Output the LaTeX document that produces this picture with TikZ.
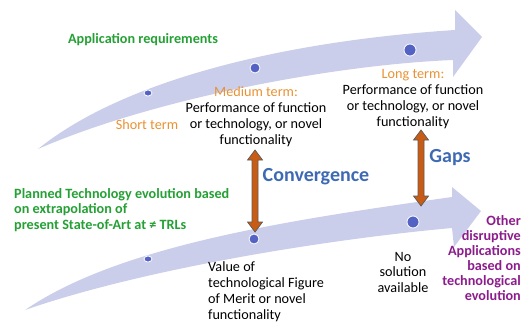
\documentclass[tikz,border=0pt]{standalone}
\usepackage{fontspec}
\setmainfont{Carlito}
\usetikzlibrary{calc,shapes.geometric}

\definecolor{bandcol}{RGB}{203,206,234}
\definecolor{dotcol}{RGB}{84,98,196}
\definecolor{appgreen}{RGB}{36,160,52}
\definecolor{termorange}{RGB}{232,146,52}
\definecolor{convblue}{RGB}{62,106,180}
\definecolor{otherpurple}{RGB}{140,28,140}
\definecolor{arroworange}{RGB}{200,92,20}
\definecolor{arrowedge}{RGB}{90,90,90}

\newcommand{\dblarrow}[2]{%
  \draw[arrowedge, fill=arroworange, line width=0.7pt, line join=miter]
    (#1) -- ++(7.5,10) -- ++(-4.5,0) -- ($(#2)+(3,-10)$) -- ++(4.5,0)
    -- (#2) -- ++(-7.5,-10) -- ++(4.5,0) -- ($(#1)+(-3,10)$) -- ++(-4.5,0) -- cycle;}

\begin{document}
\begin{tikzpicture}[x=1pt, y=-1pt,
  txt/.style = {font=\fontsize{14.2}{16}\selectfont, inner sep=0pt},
  greentxt/.style = {txt, text=appgreen, font=\fontsize{14.2}{15.5}\selectfont\bfseries},
  bigblue/.style = {inner sep=0pt, text=convblue, font=\fontsize{20}{22}\selectfont\bfseries},
  dot/.style = {circle, fill=dotcol, draw=white, line width=0.8pt, inner sep=0pt},
  smalldot/.style = {ellipse, fill=dotcol, draw=white, line width=0.8pt, inner sep=0pt,
    minimum width=8pt, minimum height=6pt}]
  \useasboundingbox (0,0) rectangle (526,323);

  % Bandes
  \fill[bandcol] (38,149) .. controls (130,75) and (300,40) .. (455,30)
    -- (455,10) -- (482,37) -- (453,77) -- (453,60)
    .. controls (330,65) and (150,100) .. (38,149) -- cycle;
  \fill[bandcol] (25,310) .. controls (120,245) and (290,220) .. (452,197)
    -- (452,187) -- (481,211) -- (454,247) -- (452,228)
    .. controls (320,240) and (140,270) .. (25,310) -- cycle;

  % Points
  \node[smalldot] (d1) at (148,93) {};
  \node[dot, minimum size=10pt] (d2) at (255,68) {};
  \node[dot, minimum size=12pt] (d3) at (410,50) {};
  \node[smalldot] (d4) at (148,259) {};
  \node[dot, minimum size=10pt] (d5) at (254,239) {};
  \node[dot, minimum size=12pt] (d6) at (413,222) {};

  % Textes
  \node[greentxt] (app) at (143,40) {Application requirements};
  \node[txt, text=termorange] (short) at (147,125) {Short term};
  \node[txt, align=center, anchor=north] (medium) at (256,86)
    {\textcolor{termorange}{Medium term:}\\Performance of function\\or technology, or novel\\functionality};
  \node[txt, align=center, anchor=north] (long) at (413,69)
    {\textcolor{termorange}{Long term:}\\Performance of function\\or technology, or novel\\functionality};
  \node[bigblue] (conv) at (316,177) {Convergence};
  \node[bigblue] (gaps) at (450,158) {Gaps};
  \node[greentxt, align=left, anchor=north west] (planned) at (14,188)
    {Planned Technology evolution based\\on extrapolation of\\present State-of-Art at ≠ TRLs};
  \node[txt, align=left, anchor=north west] (value) at (208,261)
    {Value of\\technological Figure\\of Merit or novel\\functionality};
  \node[txt, align=center, anchor=north, font=\fontsize{14.2}{15.5}\selectfont] (nosol) at (403,252)
    {No\\solution\\available};
  \node[greentxt, text=otherpurple, align=right, anchor=north east,
    font=\fontsize{14.2}{15}\selectfont\bfseries] (other) at (521,215)
    {Other\\disruptive\\Applications\\based on\\technological\\evolution};

  % Fleches
  \coordinate (c1) at (255,150);
  \coordinate (c2) at (255,232);
  \coordinate (g1) at (421,130);
  \coordinate (g2) at (421,206);
  \dblarrow{c1}{c2}
  \dblarrow{g1}{g2}
\end{tikzpicture}
\end{document}
